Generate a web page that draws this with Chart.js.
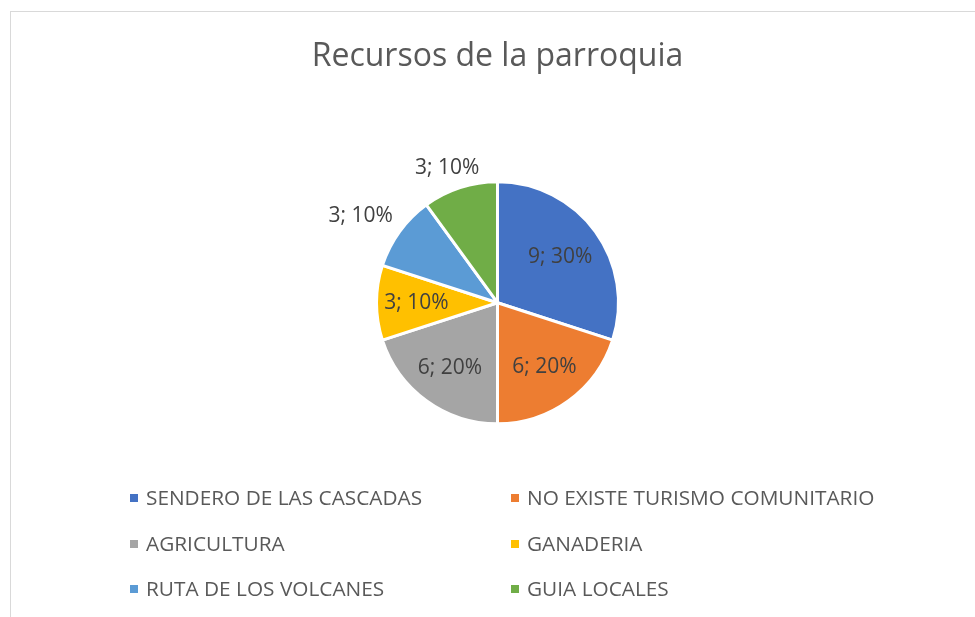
<!DOCTYPE html>
<html>
<head>
<meta charset="utf-8">
<script src="https://cdn.jsdelivr.net/npm/chart.js@4"></script>
<style>
  html, body { margin: 0; padding: 0; background: #fff; }
  #wrap { position: relative; width: 975px; height: 617px; overflow: hidden; }
  #frame { position: absolute; left: 10px; top: 11px; width: 1000px; height: 700px;
           border: 1px solid #d9d9d9; box-sizing: border-box; }
  canvas { position: absolute; left: 0; top: 0; }
</style>
</head>
<body>
<div id="wrap">
  <div id="frame"></div>
  <canvas id="chart" width="975" height="617"></canvas>
</div>
<script>
// Datos del gráfico
const categorias = [
  'SENDERO DE LAS CASCADAS',
  'NO EXISTE TURISMO COMUNITARIO',
  'AGRICULTURA',
  'GANADERIA',
  'RUTA DE LOS VOLCANES',
  'GUIA LOCALES'
];
const valores = [9, 6, 6, 3, 3, 3];
const colores = ['#4472C4', '#ED7D31', '#A5A5A5', '#FFC000', '#5B9BD5', '#70AD47'];

const FONT = '"Open Sans", "Liberation Sans", sans-serif';

// Etiquetas de datos "valor; porcentaje"
const dataLabelsPlugin = {
  id: 'dataLabels',
  afterDatasetsDraw(chart, args, opts) {
    const ctx = chart.ctx;
    const data = chart.data.datasets[0].data;
    const total = data.reduce((a, b) => a + b, 0);
    const meta = chart.getDatasetMeta(0);
    ctx.save();
    ctx.font = `${opts.size}px ${FONT}`;
    ctx.fillStyle = opts.color;
    ctx.textAlign = 'center';
    ctx.textBaseline = 'middle';
    meta.data.forEach((arc, i) => {
      const p = arc.getProps(['x', 'y', 'startAngle', 'endAngle', 'outerRadius'], true);
      const mid = (p.startAngle + p.endAngle) / 2;
      const dx = Math.cos(mid), dy = Math.sin(mid);
      const text = `${data[i]}; ${Math.round(data[i] / total * 100)}%`;
      let x, y;
      if (opts.outside[i]) {
        // fuera del sector, pegada al borde
        const w = ctx.measureText(text).width;
        const h = opts.size;
        const d = p.outerRadius + opts.gap[i];
        x = p.x + dx * d + dx * w / 2;
        y = p.y + dy * d + dy * h / 2;
      } else {
        const d = p.outerRadius * opts.inset[i];
        x = p.x + dx * d;
        y = p.y + dy * d;
      }
      ctx.fillText(text, x, y);
    });
    ctx.restore();
  }
};

// Leyenda en dos columnas
const legendPlugin = {
  id: 'gridLegend',
  afterDraw(chart, args, opts) {
    const ctx = chart.ctx;
    const ds = chart.data.datasets[0];
    ctx.save();
    ctx.font = `${opts.size}px ${FONT}`;
    ctx.textBaseline = 'middle';
    ctx.textAlign = 'left';
    chart.data.labels.forEach((label, i) => {
      const x = opts.cols[i % 2];
      const y = opts.rows[Math.floor(i / 2)];
      ctx.fillStyle = ds.backgroundColor[i];
      ctx.fillRect(x, y - 4, 8, 8);
      ctx.fillStyle = opts.color;
      ctx.fillText(label, x + 16, y + 1);
    });
    ctx.restore();
  }
};

new Chart(document.getElementById('chart'), {
  type: 'pie',
  data: {
    labels: categorias,
    datasets: [{
      data: valores,
      backgroundColor: colores,
      borderColor: '#ffffff',
      borderWidth: 3,
      radius: 121
    }]
  },
  options: {
    responsive: false,
    animation: false,
    layout: { padding: { left: 20, right: 0, top: 0, bottom: 88 } },
    plugins: {
      title: {
        display: true,
        text: 'Recursos de la parroquia',
        color: '#595959',
        font: { family: FONT, size: 32, weight: 'normal', lineHeight: 1.2 },
        padding: { top: 38, bottom: 0 }
      },
      legend: { display: false },
      tooltip: { enabled: false },
      dataLabels: {
        size: 21,
        color: '#404040',
        inset: [0.64, 0.66, 0.67, 0.67, 0, 0],
        gap: [0, 0, 0, 0, 16, 10],
        outside: [false, false, false, false, true, true]
      },
      gridLegend: {
        size: 20.8,
        color: '#595959',
        cols: [130, 511],
        rows: [498, 544, 589]
      }
    }
  },
  plugins: [dataLabelsPlugin, legendPlugin]
});
</script>
</body>
</html>
